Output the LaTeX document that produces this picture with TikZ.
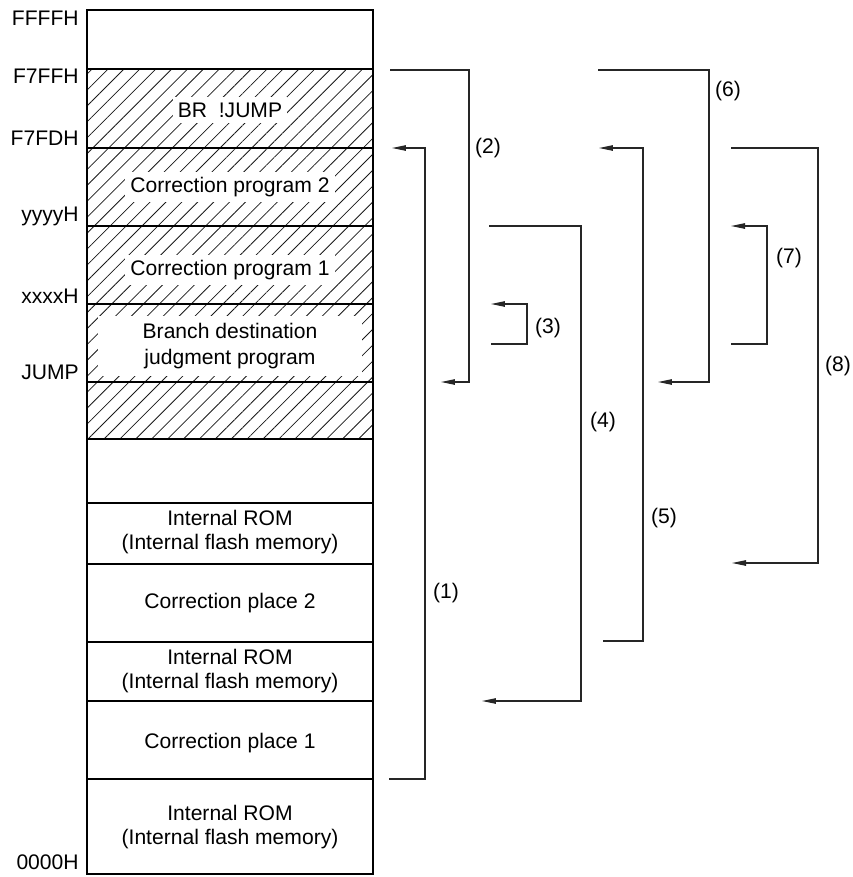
\documentclass[tikz,border=0pt]{standalone}
\usepackage{fontspec}
\setmainfont{Liberation Sans}
\usetikzlibrary{positioning,arrows.meta,patterns.meta}

\begin{document}
\begin{tikzpicture}[x=0.02cm, y=-0.02cm, >={Triangle[length=0.28cm,width=0.11cm]},
  every node/.style={font=\fontsize{12}{14}\selectfont},
  addr/.style={anchor=east, inner sep=0pt},
  area/.style={align=center, fill=white, inner sep=3pt},
  divider/.style={line width=0.6pt},
  jump/.style={->, line width=0.6pt, draw=black!85},
  tag/.style={inner sep=0pt}]
  \useasboundingbox (0,0) rectangle (853,877);

  %% ─── Memory map ────────────────────────────────────────────────────────
  \fill[pattern={Lines[angle=45,distance=0.225cm,line width=0.45pt]}, pattern color=black!90]
    (87,69) rectangle (373,439);
  \foreach \yy in {69,148,226,304,382,439,503,564,642,701,779}
    \draw[divider] (87,\yy) -- (373,\yy);
  \draw[line width=1.3pt] (87,10) rectangle (373,874);

  \node[area]                 (br)     at (230,110) {BR\ \ !JUMP};
  \node[area]                 (corr2)  at (230,187) {Correction program 2};
  \node[area]                 (corr1)  at (230,270) {Correction program 1};
  \node[area, minimum width=5.3cm, minimum height=1.2cm]
                              (judge)  at (230,346) {Branch destination\\[1pt]judgment program};
  \node[area]                 (rom3)   at (230,532) {Internal ROM\\(Internal flash memory)};
  \node[area]                 (place2) at (230,603) {Correction place 2};
  \node[area]                 (rom2)   at (230,671) {Internal ROM\\(Internal flash memory)};
  \node[area]                 (place1) at (230,743) {Correction place 1};
  \node[area]                 (rom1)   at (230,827) {Internal ROM\\(Internal flash memory)};

  \node[addr] (a_ffff) at (79,18)  {FFFFH};
  \node[addr] (a_f7ff) at (79,76)  {F7FFH};
  \node[addr] (a_f7fd) at (79,138) {F7FDH};
  \node[addr] (a_yyyy) at (79,216) {yyyyH};
  \node[addr] (a_xxxx) at (79,296) {xxxxH};
  \node[addr] (a_jump) at (79,372) {JUMP};
  \node[addr] (a_0000) at (79,862) {0000H};

  %% ─── Branch paths ──────────────────────────────────────────────────────
  \coordinate (s1) at (389,779);  \coordinate (e1) at (392,148);
  \coordinate (s2) at (390,70);   \coordinate (e2) at (441,382);
  \coordinate (s3) at (491,344);  \coordinate (e3) at (491,304);
  \coordinate (s4) at (489,226);  \coordinate (e4) at (482,701);
  \coordinate (s5) at (603,641);  \coordinate (e5) at (599,148);
  \coordinate (s6) at (598,70);   \coordinate (e6) at (658,382);
  \coordinate (s7) at (731,344);  \coordinate (e7) at (731,226);
  \coordinate (s8) at (731,148);  \coordinate (e8) at (732,563);

  \draw[jump] (s1) -- (425,779) |- (e1);
  \draw[jump] (s2) -- (469,70)  |- (e2);
  \draw[jump] (s3) -- (527,344) |- (e3);
  \draw[jump] (s4) -- (581,226) |- (e4);
  \draw[jump] (s5) -- (643,641) |- (e5);
  \draw[jump] (s6) -- (709,70)  |- (e6);
  \draw[jump] (s7) -- (767,344) |- (e7);
  \draw[jump] (s8) -- (818,148) |- (e8);

  \node[tag] (t1) at (446,593) {(1)};
  \node[tag] (t2) at (488,148) {(2)};
  \node[tag] (t3) at (548,328) {(3)};
  \node[tag] (t4) at (603,422) {(4)};
  \node[tag] (t5) at (664,518) {(5)};
  \node[tag] (t6) at (728,91)  {(6)};
  \node[tag] (t7) at (789,258) {(7)};
  \node[tag] (t8) at (838,366) {(8)};
\end{tikzpicture}
\end{document}
